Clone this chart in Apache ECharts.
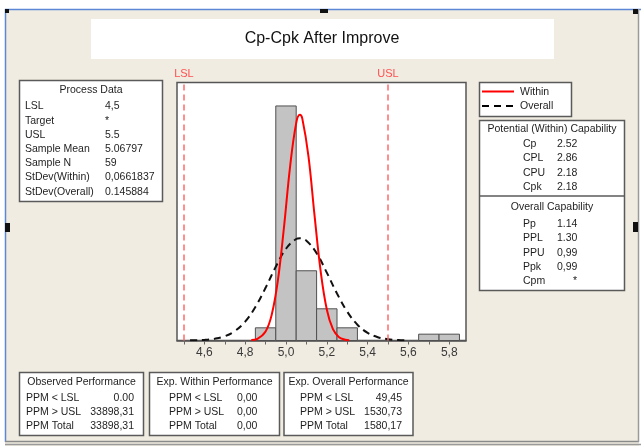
<!DOCTYPE html>
<html>
<head>
<meta charset="utf-8">
<script src="https://cdn.jsdelivr.net/npm/echarts@6/dist/echarts.min.js"></script>
<style>
html,body{margin:0;padding:0;background:#fff;}
#c{width:641px;height:446px;}
</style>
</head>
<body>
<div id="c"></div>
<script>
// ---------- data ----------
const titleText = 'Cp-Cpk After Improve';
const specNames = ['LSL', 'USL'];
const specValues = [4.5, 5.5];

const binLeft  = [4.85, 4.95, 5.05, 5.15, 5.25, 5.65, 5.75];
const binRight = [4.95, 5.05, 5.15, 5.25, 5.35, 5.75, 5.85];
const binCounts = [2, 37, 11, 5, 2, 1, 1];

const withinX = [4.83, 4.86, 4.90, 4.93, 4.96, 4.99, 5.02, 5.05, 5.068, 5.08, 5.11, 5.14, 5.17, 5.20, 5.23, 5.26, 5.29, 5.31];
const withinY = [0.06, 0.26, 1.42, 4.05, 9.4, 17.8, 27.4, 34.3, 35.6, 35.0, 29.1, 19.7, 10.9, 4.9, 1.78, 0.53, 0.13, 0.04];

const overallX = [4.53, 4.55, 4.60, 4.65, 4.70, 4.75, 4.80, 4.85, 4.90, 4.95, 5.00, 5.05, 5.068, 5.10, 5.15, 5.20, 5.25, 5.30, 5.35, 5.40, 5.45, 5.50, 5.55, 5.58];
const overallY = [0.02, 0.03, 0.09, 0.27, 0.67, 1.50, 2.98, 5.29, 8.31, 11.63, 14.47, 16.01, 16.13, 15.75, 13.78, 10.71, 7.41, 4.56, 2.49, 1.21, 0.52, 0.20, 0.07, 0.03];

const xTickValues = [4.5, 4.6, 4.7, 4.8, 4.9, 5.0, 5.1, 5.2, 5.3, 5.4, 5.5, 5.6, 5.7, 5.8];
const xLabelValues = [4.6, 4.8, 5.0, 5.2, 5.4, 5.6, 5.8];

const processTitle = 'Process Data';
const processLabels = ['LSL', 'Target', 'USL', 'Sample Mean', 'Sample N', 'StDev(Within)', 'StDev(Overall)'];
const processValues = ['4,5', '*', '5.5', '5.06797', '59', '0,0661837', '0.145884'];

const legendNames = ['Within', 'Overall'];

const potentialTitle = 'Potential (Within) Capability';
const potentialLabels = ['Cp', 'CPL', 'CPU', 'Cpk'];
const potentialValues = ['2.52', '2.86', '2.18', '2.18'];

const overallCapTitle = 'Overall Capability';
const overallCapLabels = ['Pp', 'PPL', 'PPU', 'Ppk', 'Cpm'];
const overallCapValues = ['1.14', '1.30', '0,99', '0,99', '*'];

const perfLabels = ['PPM < LSL', 'PPM > USL', 'PPM Total'];
const observedTitle = 'Observed Performance';
const observedValues = ['0.00', '33898,31', '33898,31'];
const expWithinTitle = 'Exp. Within Performance';
const expWithinValues = ['0,00', '0,00', '0,00'];
const expOverallTitle = 'Exp. Overall Performance';
const expOverallValues = ['49,45', '1530,73', '1580,17'];

// ---------- helpers ----------
const FONT = '"Liberation Sans", Arial, sans-serif';
function box(x, y, w, h) {
  return {type: 'rect', shape: {x: x, y: y, width: w, height: h},
    style: {fill: '#ffffff', stroke: '#5a5a5a', lineWidth: 1.5}, silent: true};
}
function txt(x, y, s, align, size, color) {
  return {type: 'text', x: x, y: y, silent: true,
    style: {text: s, fill: color || '#1e1e1e', fontSize: size || 10.5, fontFamily: FONT,
      align: align || 'left', textAlign: align || 'left', verticalAlign: 'middle', textVerticalAlign: 'middle'}};
}
function line(x1, y1, x2, y2, color, w, dash) {
  return {type: 'line', shape: {x1: x1, y1: y1, x2: x2, y2: y2}, silent: true,
    style: {stroke: color, lineWidth: w, lineDash: dash || null}};
}
function rect(x, y, w, h, fill) {
  return {type: 'rect', shape: {x: x, y: y, width: w, height: h}, style: {fill: fill}, silent: true};
}

const g = [];
// frame (page background is beige; white strip on top)
g.push(rect(0, 0, 641, 9, '#ffffff'));
g.push(rect(0, 9, 5, 437, '#ffffff'));
g.push(rect(639, 9, 2, 437, '#ffffff'));
g.push(line(5, 9.5, 641, 9.5, '#5b87d6', 1.5));
g.push(line(5.5, 9, 5.5, 442, '#5b87d6', 1.5));
g.push(line(5, 441.5, 639, 441.5, '#8a8a8a', 1.5));
g.push(line(5, 444.5, 641, 444.5, '#9a9a9a', 1.5));
g.push(line(638.5, 9, 638.5, 442, '#9a9a9a', 1.5));
// handles
g.push(rect(5, 9, 4, 4, '#111'));
g.push(rect(320, 9, 8, 4, '#111'));
g.push(rect(633, 9, 5, 5, '#111'));
g.push(rect(5, 223, 5, 9, '#111'));
g.push(rect(633, 222, 5, 10, '#111'));

// title
g.push(rect(91, 19, 463, 40, '#ffffff'));
g.push(txt(322, 39, titleText, 'center', 16, '#111'));

// process data
g.push(box(19.5, 80.5, 143, 121));
g.push(txt(91, 90, processTitle, 'center'));
processLabels.forEach(function (l, i) {
  g.push(txt(25, 106.5 + i * 14.2, l, 'left'));
  g.push(txt(105, 106.5 + i * 14.2, processValues[i], 'left'));
});

// legend
g.push(box(479.5, 82.5, 92, 34));
g.push(line(482, 91.5, 514, 91.5, '#ff0000', 2));
g.push(txt(520, 92, legendNames[0], 'left'));
g.push(line(482, 106, 514, 106, '#000000', 2, [7, 5]));
g.push(txt(520, 106, legendNames[1], 'left'));

// capability box
g.push(box(479.5, 120.5, 145, 170));
g.push(line(479.5, 196, 624.5, 196, '#5a5a5a', 1.5));
g.push(txt(552, 129.5, potentialTitle, 'center'));
potentialLabels.forEach(function (l, i) {
  g.push(txt(523, 144 + i * 14.4, l, 'left'));
  g.push(txt(557, 144 + i * 14.4, potentialValues[i], 'left'));
});
g.push(txt(552, 207, overallCapTitle, 'center'));
overallCapLabels.forEach(function (l, i) {
  g.push(txt(523, 224 + i * 14.4, l, 'left'));
  g.push(txt(l === 'Cpm' ? 573 : 557, 224 + i * 14.4, overallCapValues[i], 'left'));
});

// performance boxes
function perfBox(x, w, title, vals, labelX, valX, valAlign) {
  g.push(box(x, 372.5, w, 63));
  g.push(txt(x + w / 2, 382.5, title, 'center'));
  perfLabels.forEach(function (l, i) {
    g.push(txt(labelX, 398.5 + i * 13.7, l, 'left'));
    g.push(txt(valX, 398.5 + i * 13.7, vals[i], valAlign));
  });
}
perfBox(19.5, 124, observedTitle, observedValues, 26, 134, 'right');
perfBox(149.5, 130, expWithinTitle, expWithinValues, 169, 237, 'left');
perfBox(284, 129, expOverallTitle, expOverallValues, 300, 402, 'right');

// ---------- chart ----------
const histData = binCounts.map(function (c, i) { return [binLeft[i], binRight[i], c]; });
const withinData = withinX.map(function (x, i) { return [x, withinY[i]]; });
const overallData = overallX.map(function (x, i) { return [x, overallY[i]]; });

const chart = echarts.init(document.getElementById('c'), null, {renderer: 'canvas'});
chart.setOption({
  animation: false,
  backgroundColor: '#f0ece2',
  grid: {left: 177, right: 175, top: 82.5, bottom: 105.5, show: true,
    backgroundColor: '#ffffff', borderColor: '#555555', borderWidth: 1.5},
  xAxis: {
    type: 'value', min: 4.466, max: 5.882,
    axisLine: {show: true, onZero: false, lineStyle: {color: '#555555', width: 1.5}},
    axisTick: {show: true, length: 4, customValues: xTickValues, lineStyle: {color: '#666666'}},
    axisLabel: {customValues: xLabelValues, color: '#3a3a3a', fontSize: 12, fontFamily: FONT, margin: 6,
      formatter: function (v) { return v.toFixed(1).replace('.', ','); }},
    splitLine: {show: false}
  },
  yAxis: {type: 'value', min: 0, max: 40.7, show: false, splitLine: {show: false}},
  graphic: {elements: g},
  series: [
    {
      type: 'custom', name: 'hist', z: 2,
      renderItem: function (params, api) {
        const p0 = api.coord([api.value(0), api.value(2)]);
        const p1 = api.coord([api.value(1), 0]);
        return {type: 'rect', shape: {x: p0[0], y: p0[1], width: p1[0] - p0[0], height: p1[1] - p0[1]},
          style: {fill: '#c3c3c3', stroke: '#505050', lineWidth: 1}};
      },
      encode: {x: [0, 1], y: 2},
      data: histData,
      markLine: {
        silent: true, symbol: 'none',
        lineStyle: {color: '#ff6a6a', type: [6, 4], width: 1.5},
        label: {show: true, position: 'end', formatter: '{b}', color: '#ff5050', fontSize: 11, fontFamily: FONT, distance: 3},
        data: specValues.map(function (v, i) { return {xAxis: v, name: specNames[i]}; })
      }
    },
    {
      type: 'line', name: 'Overall', data: overallData, smooth: 0.4, showSymbol: false, z: 3,
      lineStyle: {color: '#111111', width: 2, type: [7, 5]}
    },
    {
      type: 'line', name: 'Within', data: withinData, smooth: 0.4, showSymbol: false, z: 4,
      lineStyle: {color: '#ff0000', width: 2}
    }
  ]
});
</script>
</body>
</html>
